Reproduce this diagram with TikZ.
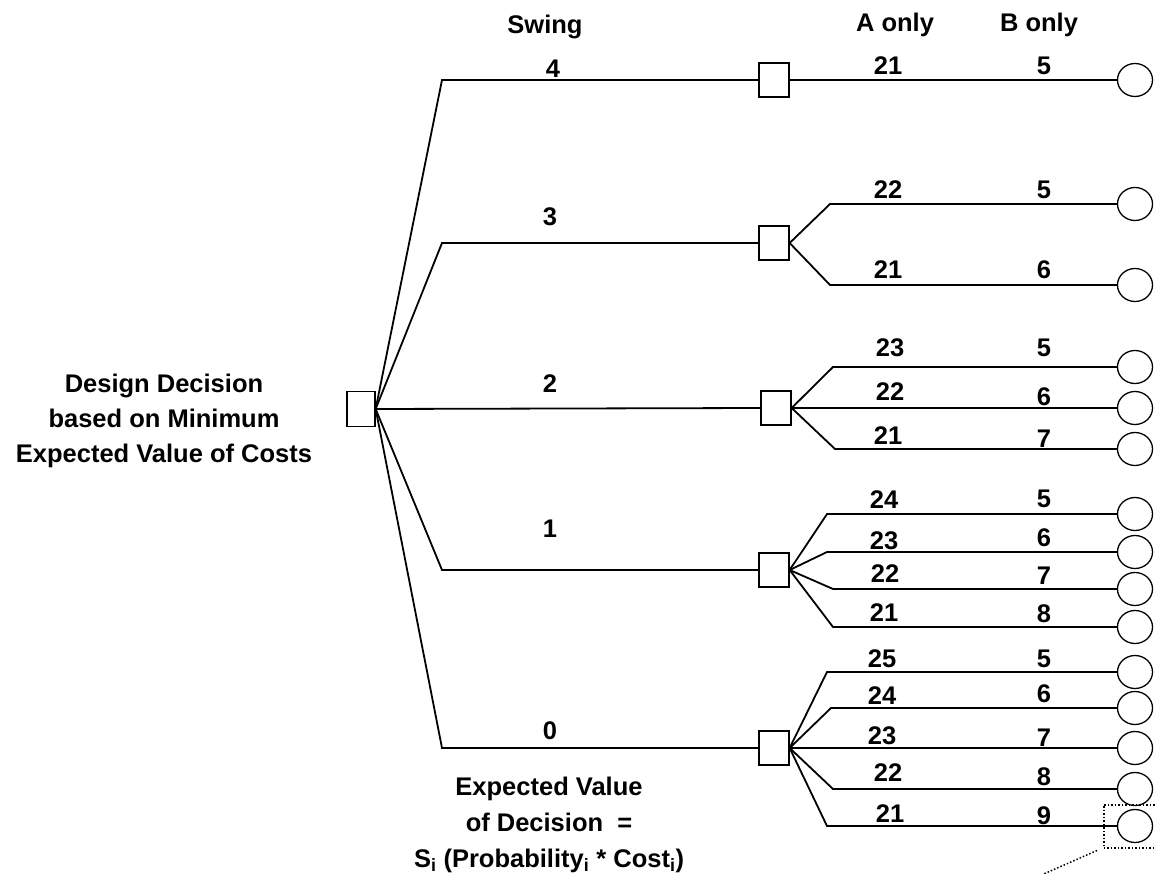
\documentclass[tikz,border=0pt]{standalone}
\usepackage{fontspec}
\setmainfont{Liberation Sans}
\usetikzlibrary{shapes.geometric}
\begin{document}
\begin{tikzpicture}[x=1pt,y=-1pt,
  ln/.style={line width=1.8pt},
  dsq/.style={draw, line width=1.3pt, rectangle, minimum width=30pt, minimum height=34pt, inner sep=0pt},
  ch/.style={draw, line width=1.3pt, ellipse, minimum width=35pt, minimum height=33pt, inner sep=0pt},
  txt/.style={font=\fontsize{25.5}{35}\selectfont\bfseries, align=center, inner sep=0pt},
  num/.style={font=\fontsize{25.5}{30}\selectfont\bfseries, anchor=base, inner sep=0pt}]
\useasboundingbox (0,0) rectangle (1156,874);

% decision nodes
\node[dsq, minimum width=28pt, minimum height=35pt] (root) at (361,409) {};
\node[dsq] (s4) at (774,80) {};
\node[dsq] (s3) at (774,243) {};
\node[dsq] (s2) at (776,408) {};
\node[dsq] (s1) at (774,570) {};
\node[dsq] (s0) at (774,748) {};

% bends of the first stage
\coordinate (b4) at (442,80);
\coordinate (b3) at (442,243);
\coordinate (b1) at (442,570);
\coordinate (b0) at (442,748);

% end (chance) nodes
\node[ch] (e4)  at (1135,80) {};
\node[ch] (e3a) at (1135,204) {};
\node[ch] (e3b) at (1135,285) {};
\node[ch] (e2a) at (1135,367) {};
\node[ch] (e2b) at (1135,408) {};
\node[ch] (e2c) at (1135,449) {};
\node[ch] (e1a) at (1135,514) {};
\node[ch] (e1b) at (1135,552) {};
\node[ch] (e1c) at (1135,589) {};
\node[ch] (e1d) at (1135,627) {};
\node[ch] (e0a) at (1135,672) {};
\node[ch] (e0b) at (1135,708) {};
\node[ch] (e0c) at (1135,748) {};
\node[ch] (e0d) at (1135,789) {};
\node[ch] (e0e) at (1135,826) {};

% bends of the second stage
\coordinate (c3a) at (830,204);
\coordinate (c3b) at (830,285);
\coordinate (c2a) at (833,367);
\coordinate (c2c) at (835,449);
\coordinate (c1a) at (827,514);
\coordinate (c1b) at (827,552);
\coordinate (c1c) at (833,589);
\coordinate (c1d) at (833,627);
\coordinate (c0a) at (827,672);
\coordinate (c0b) at (831,708);
\coordinate (c0d) at (833,789);
\coordinate (c0e) at (827,826);

% first stage connectors
\draw[ln] (root.east) -- (b4) -- (s4.west);
\draw[ln] (root.east) -- (b3) -- (s3.west);
\draw[ln] (root.east) -- (s2.west);
\draw[ln] (root.east) -- (b1) -- (s1.west);
\draw[ln] (root.east) -- (b0) -- (s0.west);

% second stage connectors
\draw[ln] (s4.east) -- (e4.west);
\draw[ln] (s3.east) -- (c3a) -- (e3a.west);
\draw[ln] (s3.east) -- (c3b) -- (e3b.west);
\draw[ln] (s2.east) -- (c2a) -- (e2a.west);
\draw[ln] (s2.east) -- (e2b.west);
\draw[ln] (s2.east) -- (c2c) -- (e2c.west);
\draw[ln] (s1.east) -- (c1a) -- (e1a.west);
\draw[ln] (s1.east) -- (c1b) -- (e1b.west);
\draw[ln] (s1.east) -- (c1c) -- (e1c.west);
\draw[ln] (s1.east) -- (c1d) -- (e1d.west);
\draw[ln] (s0.east) -- (c0a) -- (e0a.west);
\draw[ln] (s0.east) -- (c0b) -- (e0b.west);
\draw[ln] (s0.east) -- (e0c.west);
\draw[ln] (s0.east) -- (c0d) -- (e0d.west);
\draw[ln] (s0.east) -- (c0e) -- (e0e.west);

% headers
\node[num] (hswing) at (545,34) {Swing};
\node[num] (ha) at (895,32) {A only};
\node[num] (hb) at (1039,32) {B only};

% swing labels
\node[num] (w4) at (553,78) {4};
\node[num] (w3) at (550,226) {3};
\node[num] (w2) at (550,392) {2};
\node[num] (w1) at (550,537) {1};
\node[num] (w0) at (550,739) {0};

% A only / B only labels
\node[num] (a4)  at (888,75) {21};  \node[num] (bb4)  at (1044,75) {5};
\node[num] (a3a) at (888,199) {22}; \node[num] (bb3a) at (1044,199) {5};
\node[num] (a3b) at (888,279) {21}; \node[num] (bb3b) at (1044,279) {6};
\node[num] (a2a) at (890,356) {23}; \node[num] (bb2a) at (1044,356) {5};
\node[num] (a2b) at (890,400) {22}; \node[num] (bb2b) at (1044,405) {6};
\node[num] (a2c) at (888,444) {21}; \node[num] (bb2c) at (1044,447) {7};
\node[num] (a1a) at (884,508) {24}; \node[num] (bb1a) at (1044,507) {5};
\node[num] (a1b) at (884,549) {23}; \node[num] (bb1b) at (1044,546) {6};
\node[num] (a1c) at (885,582) {22}; \node[num] (bb1c) at (1044,584) {7};
\node[num] (a1d) at (884,621) {21}; \node[num] (bb1d) at (1044,622) {8};
\node[num] (a0a) at (882,667) {25}; \node[num] (bb0a) at (1044,667) {5};
\node[num] (a0b) at (882,704) {24}; \node[num] (bb0b) at (1044,702) {6};
\node[num] (a0c) at (882,744) {23}; \node[num] (bb0c) at (1044,746) {7};
\node[num] (a0d) at (888,781) {22}; \node[num] (bb0d) at (1044,785) {8};
\node[num] (a0e) at (890,822) {21}; \node[num] (bb0e) at (1044,824) {9};

% texts
\node[txt] (dd) at (164,421) {Design Decision\\based on Minimum\\Expected Value of Costs};
\node[txt, font=\fontsize{25.5}{36}\selectfont\bfseries] (ev) at (549,825)
  {Expected Value\\of Decision\ \ =\\S\textsubscript{i} (Probability\textsubscript{i} * Cost\textsubscript{i})};

% dotted callout
\node[draw, dotted, line width=1.5pt, minimum width=60pt, minimum height=43pt, inner sep=0pt, anchor=north west] (zb) at (1103,804) {};
\coordinate (zt) at (1030,880);
\draw[dotted, line width=1.5pt] ([xshift=-6pt,yshift=-2pt]zb.south west) -- (zt);
\end{tikzpicture}
\end{document}
